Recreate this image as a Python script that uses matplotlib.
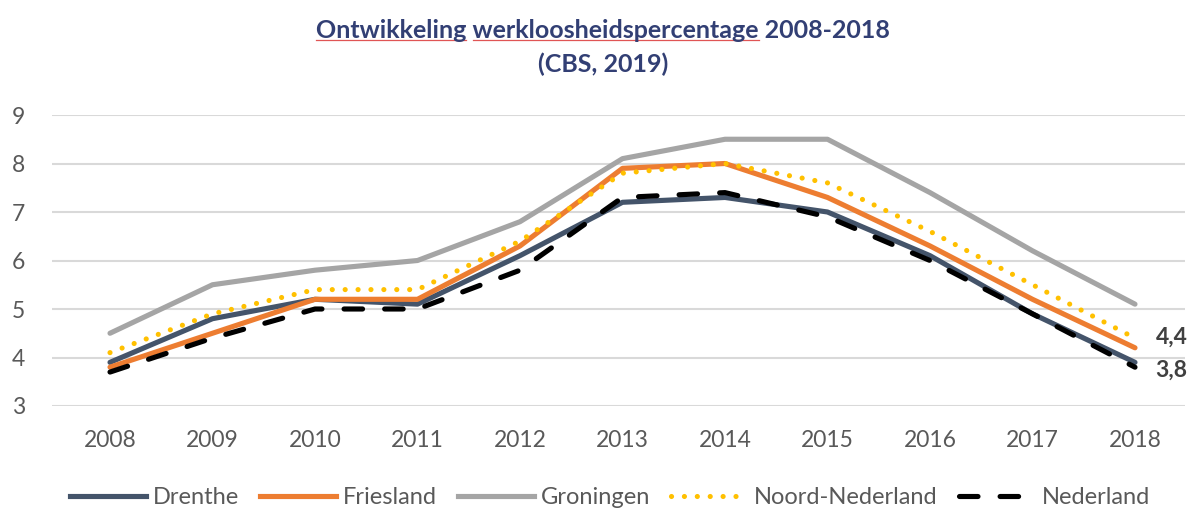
import matplotlib
matplotlib.use('Agg')
import matplotlib.pyplot as plt
from matplotlib.lines import Line2D

years = ['2008', '2009', '2010', '2011', '2012', '2013', '2014', '2015', '2016', '2017', '2018']
drenthe = [3.9, 4.8, 5.2, 5.1, 6.1, 7.2, 7.3, 7.0, 6.1, 4.9, 3.9]
friesland = [3.8, 4.5, 5.2, 5.2, 6.3, 7.9, 8.0, 7.3, 6.3, 5.2, 4.2]
groningen = [4.5, 5.5, 5.8, 6.0, 6.8, 8.1, 8.5, 8.5, 7.4, 6.2, 5.1]
noord_nl = [4.1, 4.9, 5.4, 5.4, 6.4, 7.8, 8.0, 7.6, 6.6, 5.5, 4.4]
nederland = [3.7, 4.4, 5.0, 5.0, 5.8, 7.3, 7.4, 6.9, 6.0, 4.9, 3.8]
end_labels = ['4,4', '3,8']

plt.rcParams['font.family'] = ['Lato', 'DejaVu Sans']

W, H = 1187, 511
fig = plt.figure(figsize=(W / 100, H / 100), dpi=100)
ax = fig.add_axes([52 / W, 1 - 406 / H, 1133 / W, 291 / H])

lw = 3.7
dots = (0, (0.01, 2.5))
dashes = (0, (3.6, 4.3))
x = list(range(len(years)))
ax.plot(x, groningen, color='#A5A5A5', lw=lw, solid_capstyle='round')
ax.plot(x, drenthe, color='#44546A', lw=lw, solid_capstyle='round')
ax.plot(x, friesland, color='#ED7D31', lw=lw, solid_capstyle='round')
ax.plot(x, noord_nl, color='#FFC000', lw=lw, linestyle=dots, dash_capstyle='round')
ax.plot(x, nederland, color='black', lw=lw, linestyle=dashes, dash_capstyle='round')

ax.set_xlim(-(110 - 52) / 102.5, 10 + (1185 - 1135) / 102.5)
ax.set_ylim(3, 9)
ax.set_xticks(x)
ax.set_xticklabels(years)
ax.set_yticks(range(3, 10))
ax.yaxis.grid(True, color='#D9D9D9', lw=1.5)
ax.set_axisbelow(True)
for s in ax.spines.values():
    s.set_visible(False)
ax.tick_params(length=0, labelsize=16.5, colors='#595959')
ax.tick_params(axis='x', pad=17)
ax.tick_params(axis='y', pad=29)
for lab in ax.get_yticklabels():
    lab.set_horizontalalignment('left')

# end labels
ax.text(10.2, noord_nl[-1] + 0.02, end_labels[0], fontsize=16.5, fontweight='bold',
        color='#404040', va='center', ha='left', clip_on=False)
ax.text(10.2, nederland[-1] - 0.06, end_labels[1], fontsize=16.5, fontweight='bold',
        color='#404040', va='center', ha='left', clip_on=False)

title_color = '#323F74'
t1 = fig.text(603 / W, 1 - 30 / H, 'Ontwikkeling werkloosheidspercentage 2008-2018',
              ha='center', va='center', fontsize=18, fontweight='bold', color=title_color)
fig.text(603 / W, 1 - 64 / H, '(CBS, 2019)', ha='center', va='center',
         fontsize=18, fontweight='bold', color=title_color)

# red spell-check underline under the first two words
fig.canvas.draw()
r = fig.canvas.get_renderer()
bb = t1.get_window_extent(r)
def text_width(s):
    tmp = fig.text(0, 0, s, fontsize=18, fontweight='bold')
    w = tmp.get_window_extent(r).width
    tmp.remove()
    return w
w_a = text_width('Ontwikkeling')
w_b = text_width('Ontwikkeling ')
w_c = text_width('Ontwikkeling werkloosheidspercentage')
y_ul = (bb.y0 + 1) / H
for xa, xb in [(bb.x0, bb.x0 + w_a), (bb.x0 + w_b, bb.x0 + w_c)]:
    fig.add_artist(Line2D([xa / W, xb / W], [y_ul, y_ul], color='#E05555', lw=0.9,
                          transform=fig.transFigure))

handles = [
    Line2D([], [], color='#44546A', lw=lw),
    Line2D([], [], color='#ED7D31', lw=lw),
    Line2D([], [], color='#A5A5A5', lw=lw),
    Line2D([], [], color='#FFC000', lw=lw, linestyle=dots, dash_capstyle='round'),
    Line2D([], [], color='black', lw=lw, linestyle=dashes, dash_capstyle='round'),
]
labels = ['Drenthe', 'Friesland', 'Groningen', 'Noord-Nederland', 'Nederland']
leg = fig.legend(handles, labels, loc='center', bbox_to_anchor=(610 / W, 1 - 498 / H), ncol=5,
                 frameon=False, fontsize=17, handlelength=3.2, handletextpad=0.3,
                 columnspacing=0.9, labelcolor='#595959', borderpad=0)

fig.savefig('out.png', dpi=100)
